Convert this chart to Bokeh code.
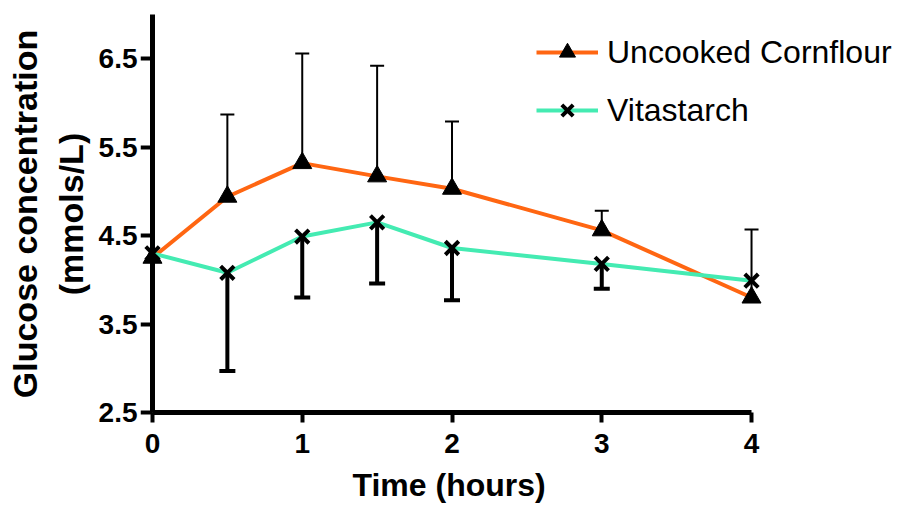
from bokeh.plotting import figure
from bokeh.models import Range1d, Whisker, ColumnDataSource, TeeHead, Legend, LegendItem, FixedTicker, LinearAxis, Title
from bokeh.embed import file_html
from bokeh.resources import INLINE

# ---- data ----
time = [0, 0.5, 1, 1.5, 2, 3, 4]
cornflour = [4.25, 4.94, 5.32, 5.17, 5.03, 4.56, 3.80]
cornflour_err_time = [0.5, 1, 1.5, 2, 3, 4]
cornflour_err_mean = [4.94, 5.32, 5.17, 5.03, 4.56, 3.80]
cornflour_err_upper = [5.87, 6.56, 6.42, 5.79, 4.78, 4.57]

vitastarch = [4.30, 4.08, 4.49, 4.65, 4.36, 4.18, 3.99]
vita_err_time = [0.5, 1, 1.5, 2, 3]
vita_err_mean = [4.08, 4.49, 4.65, 4.36, 4.18]
vita_err_lower = [2.97, 3.80, 3.96, 3.77, 3.90]

x_ticks = [0, 1, 2, 3, 4]
y_ticks = [2.5, 3.5, 4.5, 5.5, 6.5]

ORANGE = "#FF6612"
GREEN = "#44EBB2"
FONT = "Liberation Sans"

p = figure(width=898, height=512, output_backend="svg", toolbar_location=None,
           x_range=Range1d(-0.08, 4.968), y_range=Range1d(2.387, 7.102),
           min_border_left=140, min_border_right=2, min_border_top=5, min_border_bottom=90)
p.grid.visible = False
p.outline_line_color = None
p.background_fill_color = "white"
p.border_fill_color = "white"

def style_labels(ax):
    ax.major_label_text_font = FONT
    ax.major_label_text_font_style = "bold"
    ax.major_label_text_font_size = "28px"
    ax.major_label_text_color = "black"
    ax.axis_label_text_font = FONT
    ax.axis_label_text_font_style = "bold"
    ax.axis_label_text_font_size = "34px"
    ax.axis_label_text_color = "black"
    ax.minor_tick_line_color = None
    ax.axis_line_color = None
    ax.major_tick_line_color = None
    ax.major_tick_out = 0
    ax.major_tick_in = 0

def style_rule(ax):
    ax.axis_line_width = 5
    ax.axis_line_color = "black"
    ax.major_tick_line_width = 4
    ax.major_tick_line_color = "black"
    ax.major_tick_out = 12
    ax.major_tick_in = 0
    ax.minor_tick_line_color = None
    ax.major_label_text_color = None

# x axis: tick labels on the frame-edge axis
xa = p.xaxis[0]
style_labels(xa)
xa.ticker = FixedTicker(ticks=x_ticks)
xa.major_label_standoff = 11

# y axis: tick labels and title on the frame-edge axis
ya = p.yaxis[0]
style_labels(ya)
ya.ticker = FixedTicker(ticks=y_ticks)
ya.axis_label = "Glucose concentration\n(mmols/L)"
ya.major_label_standoff = 3
ya.axis_label_standoff = 6

# axis lines and ticks crossing at (0, 2.5)
yfix = LinearAxis(fixed_location=0, bounds=(2.5, 7.0), ticker=FixedTicker(ticks=y_ticks))
style_rule(yfix)
p.add_layout(yfix, "left")
xfix = LinearAxis(fixed_location=2.5, bounds=(0, 4), ticker=FixedTicker(ticks=x_ticks))
style_rule(xfix)
p.add_layout(xfix, "below")

# x axis title, centred under the 0-4 span of the axis
p.add_layout(Title(text="Time (hours)", align="left", offset=212, standoff=19,
                   text_font=FONT, text_font_style="bold", text_font_size="32px",
                   text_color="black"), "below")

# error bars
src_c = ColumnDataSource(dict(x=cornflour_err_time, lower=cornflour_err_mean, upper=cornflour_err_upper))
w1 = Whisker(source=src_c, base="x", lower="lower", upper="upper", dimension="height",
             line_color="black", line_width=2,
             upper_head=TeeHead(size=14, line_width=2, line_color="black"), lower_head=None)
p.add_layout(w1)

src_v = ColumnDataSource(dict(x=vita_err_time, lower=vita_err_lower, upper=vita_err_mean))
w2 = Whisker(source=src_v, base="x", lower="lower", upper="upper", dimension="height",
             line_color="black", line_width=4,
             lower_head=TeeHead(size=16, line_width=4, line_color="black"), upper_head=None)
p.add_layout(w2)

# series
l1 = p.line(time, cornflour, line_color=ORANGE, line_width=4)
s1 = p.scatter(time, cornflour, marker="triangle", size=19, fill_color="black", line_color="black")
l2 = p.line(time, vitastarch, line_color=GREEN, line_width=4)
s2 = p.scatter(time, vitastarch, marker="x", size=19, line_color="black", line_width=4)

legend = Legend(items=[LegendItem(label="Uncooked Cornflour", renderers=[l1, s1]),
                       LegendItem(label="Vitastarch", renderers=[l2, s2])],
                location=(396, 292))
legend.border_line_color = None
legend.background_fill_alpha = 0
legend.label_text_font = FONT
legend.label_text_font_size = "32px"
legend.label_text_color = "black"
legend.glyph_width = 62
legend.glyph_height = 40
legend.label_height = 40
legend.spacing = 18
legend.padding = 0
legend.margin = 0
legend.label_standoff = 9
p.add_layout(legend)

open("out.html", "w").write(file_html(p, INLINE))
